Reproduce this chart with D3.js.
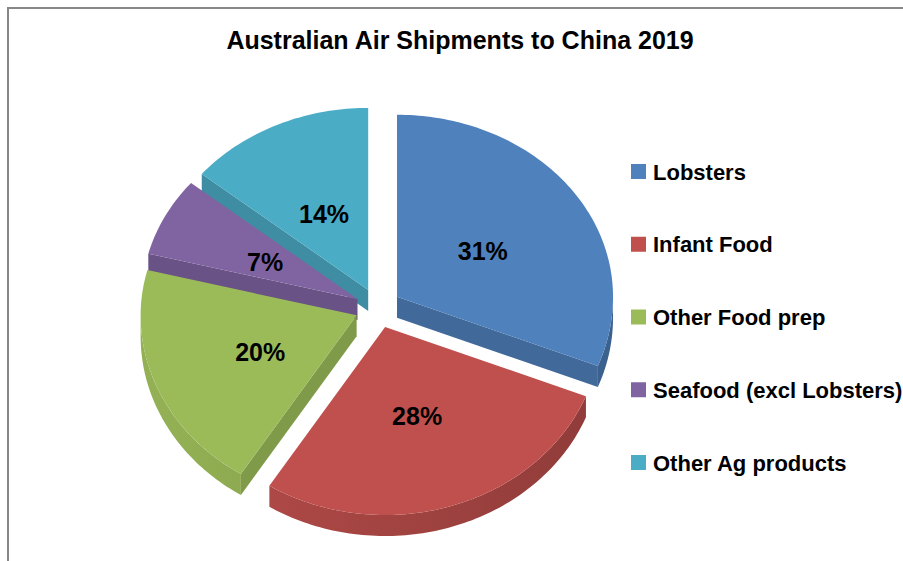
<!DOCTYPE html>
<html>
<head>
<meta charset="utf-8">
<script src="https://cdn.jsdelivr.net/npm/d3@7"></script>
<style>
  body { margin: 0; background: #fff; }
  text { font-family: "Liberation Sans", Arial, sans-serif; font-weight: bold; fill: #000; }
</style>
</head>
<body>
<div id="chart"></div>
<script>
// data
var categories = ["Lobsters", "Infant Food", "Other Food prep", "Seafood (excl Lobsters)", "Other Ag products"];
var shares = [31, 28, 20, 7, 14];
var colors = ["#4F81BD", "#C0504D", "#9BBB59", "#8064A2", "#4BACC6"];

var W = 903, H = 561;
var svg = d3.select("#chart").append("svg").attr("width", W).attr("height", H);

svg.append("rect").attr("width", W).attr("height", H).attr("fill", "#fff");
// chart frame (cut off at right and bottom)
svg.append("path").attr("d", "M8," + H + "L8,8L" + W + ",8")
    .attr("fill", "none").attr("stroke", "#878787").attr("stroke-width", 2);

svg.append("text").attr("x", 460).attr("y", 49).attr("text-anchor", "middle")
    .attr("font-size", "25px").text("Australian Air Shipments to China 2019");

// tilted pie geometry
var cx = 378, cy = 308, rx = 216, ryTop = 182, ryBot = 188, depth = 21;
var explodeX = 23, explodeY = 20;

var pie = d3.pie().sort(null).value(function(d) { return d.value; });
var data = categories.map(function(c, i) { return {name: c, value: shares[i], color: colors[i]}; });
var arcs = pie(data);

function apexOf(d) {
    var m = (d.startAngle + d.endAngle) / 2;
    return [cx + explodeX * Math.sin(m), cy - explodeY * Math.cos(m)];
}
function rim(ap, a, f) {
    var c = Math.cos(a);
    return [ap[0] + rx * f * Math.sin(a), ap[1] - (c > 0 ? ryTop : ryBot) * f * c];
}
function arcPts(ap, a0, a1) {
    var n = Math.max(2, Math.ceil((a1 - a0) / 0.02)), pts = [];
    for (var k = 0; k <= n; k++) pts.push(rim(ap, a0 + (a1 - a0) * k / n, 1));
    return pts;
}
var line = d3.line();
function down(p) { return [p[0], p[1] + depth]; }

var defs = svg.append("defs");
arcs.forEach(function(d, i) {
    var base = d3.rgb(d.data.color);
    var g = defs.append("linearGradient").attr("id", "wall" + i)
        .attr("gradientUnits", "userSpaceOnUse")
        .attr("x1", cx - rx).attr("x2", cx + rx).attr("y1", 0).attr("y2", 0);
    g.append("stop").attr("offset", 0).attr("stop-color", base.darker(0.15));
    g.append("stop").attr("offset", 1).attr("stop-color", base.darker(0.8));
});

// back slices first
var order = arcs.slice().sort(function(a, b) {
    return Math.cos((b.startAngle + b.endAngle) / 2) - Math.cos((a.startAngle + a.endAngle) / 2);
});

var gPie = svg.append("g");
order.forEach(function(d) {
    var i = d.index, ap = apexOf(d), a = d.startAngle, b = d.endAngle;
    var side = d3.rgb(d.data.color).darker(0.55);
    var g = gPie.append("g");
    // radial walls facing the viewer
    if (Math.sin(a) < -1e-6) {
        var p = rim(ap, a, 1);
        g.append("path").attr("d", line([ap, p, down(p), down(ap)]) + "Z").attr("fill", side);
    }
    if (Math.sin(b) > 1e-6) {
        var q = rim(ap, b, 1);
        g.append("path").attr("d", line([ap, q, down(q), down(ap)]) + "Z").attr("fill", side);
    }
    // outer wall, front half only
    var f0 = Math.max(a, Math.PI / 2), f1 = Math.min(b, 3 * Math.PI / 2);
    if (f1 > f0) {
        var top = arcPts(ap, f0, f1);
        var bot = top.map(down).reverse();
        g.append("path").attr("d", line(top.concat(bot)) + "Z").attr("fill", "url(#wall" + i + ")");
    }
    // top face
    g.append("path").attr("d", line([ap].concat(arcPts(ap, a, b))) + "Z").attr("fill", d.data.color);
});

// percentage labels
arcs.forEach(function(d) {
    var ap = apexOf(d), m = (d.startAngle + d.endAngle) / 2;
    var p = rim(ap, m, 0.48);
    svg.append("text").attr("x", p[0]).attr("y", p[1] + 3)
        .attr("text-anchor", "middle").attr("dominant-baseline", "central")
        .attr("font-size", "25px").text(d3.format(".0%")(d.data.value / 100));
});

// legend
var ly = d3.scalePoint().domain(categories).range([172, 463]);
var legend = svg.append("g").selectAll("g").data(data).enter().append("g")
    .attr("transform", function(d) { return "translate(631," + ly(d.name) + ")"; });
legend.append("rect").attr("x", 0).attr("y", -8).attr("width", 15).attr("height", 15)
    .attr("fill", function(d) { return d.color; });
legend.append("text").attr("x", 22).attr("y", 0).attr("dominant-baseline", "central")
    .attr("font-size", "22px").text(function(d) { return d.name; });
</script>
</body>
</html>
